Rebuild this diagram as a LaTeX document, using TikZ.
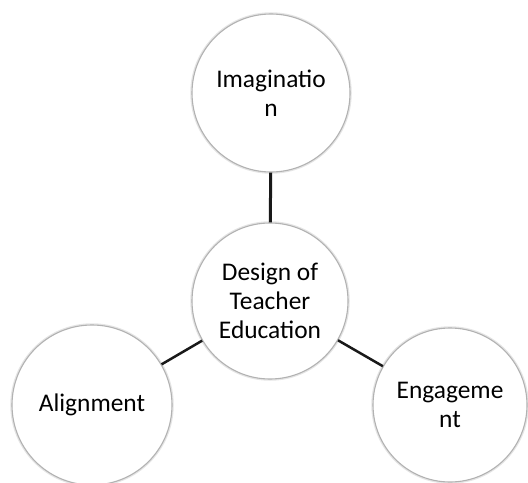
\documentclass[tikz,border=0pt]{standalone}
\usepackage{fontspec}
\setmainfont{Carlito}
\begin{document}
\begin{tikzpicture}[x=1bp,y=-1bp,
  bubble/.style={circle, minimum size=158bp, inner sep=0pt, fill=white,
    draw=gray!60, line width=1.1bp, align=center,
    font=\fontsize{25.5}{28.8}\selectfont,
    preaction={draw=gray!20, line width=3.5bp}},
  link/.style={draw=black!90, line width=3bp}]
\useasboundingbox (0,0) rectangle (528,483);
\node[bubble] (top) at (271,93) {Imaginatio\\n};
\node[bubble, minimum size=156bp] (mid) at (270,301) {Design of\\Teacher\\Education};
\node[bubble, minimum size=160bp] (left) at (92,405) {Alignment};
\node[bubble, minimum size=154bp] (right) at (450,405) {Engageme\\nt};
\draw[link] (top) -- (mid);
\draw[link, line width=2.5bp] (mid) -- (left);
\draw[link, line width=2.5bp] (mid) -- (right);
\end{tikzpicture}
\end{document}
